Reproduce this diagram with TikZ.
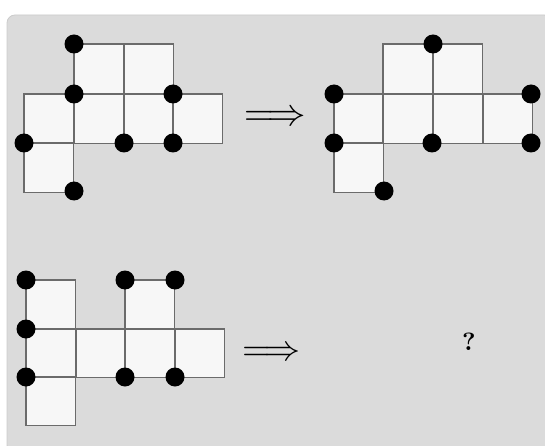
\documentclass[tikz,border=0pt]{standalone}
\usepackage{amsmath}
\usepackage{graphicx}
\begin{document}
\begin{tikzpicture}[x=1pt,y=-1pt,
  cell/.style={draw=black!58,fill=white!97!black,line width=1.1pt},
  dot/.style={circle,fill=black,inner sep=0pt,minimum size=19pt},
  panel/.style={fill=black!14,draw=black!20,line width=0.8pt,rounded corners=8pt},
  bigarrow/.style={inner sep=0pt}]
\useasboundingbox (0,0) rectangle (545,446);
\fill[white] (0,0) rectangle (545,446);
\draw[panel] (7,15) rectangle (552,453);
% ---- top left figure
\foreach \x/\y in {74/44,124/44, 24/94,74/94,124/94,173/94, 24/143}
  \draw[cell] (\x,\y) rectangle ++(49.5,49.5);
\node[dot] (a1) at (74,44) {};
\node[dot] (a2) at (74,94) {};
\node[dot] (a3) at (173,94) {};
\node[dot] (a4) at (24,143) {};
\node[dot] (a5) at (124,143) {};
\node[dot] (a6) at (173,143) {};
\node[dot] (a7) at (74,191) {};
% ---- top arrow
\node[bigarrow] (arr1) at (275,118) {\scalebox{3.85}{$\Longrightarrow$}};
% ---- top right figure
\foreach \x/\y in {383/44,433/44, 334/94,383/94,433/94,483/94, 334/143}
  \draw[cell] (\x,\y) rectangle ++(49.3,49.5);
\node[dot] (b1) at (433,44) {};
\node[dot] (b2) at (334,94) {};
\node[dot] (b3) at (531,94) {};
\node[dot] (b4) at (334,143) {};
\node[dot] (b5) at (432,143) {};
\node[dot] (b6) at (531,143) {};
\node[dot] (b7) at (384,191) {};
% ---- bottom left figure
\foreach \x/\y in {26/280,125/280, 26/329,76/329,125/329,175/329, 26/377}
  \draw[cell] (\x,\y) rectangle ++(49.3,48.7);
\node[dot] (c1) at (26,280) {};
\node[dot] (c2) at (26,329) {};
\node[dot] (c3) at (26,377) {};
\node[dot] (c4) at (125,280) {};
\node[dot] (c5) at (175,280) {};
\node[dot] (c6) at (125,377) {};
\node[dot] (c7) at (175,377) {};
% ---- bottom arrow
\node[bigarrow] (arr2) at (271,354) {\scalebox{3.6}{$\Longrightarrow$}};
% ---- question mark
\node[inner sep=0pt] (q) at (469,342) {\scalebox{2.5}{\bfseries ?}};
\end{tikzpicture}
\end{document}
